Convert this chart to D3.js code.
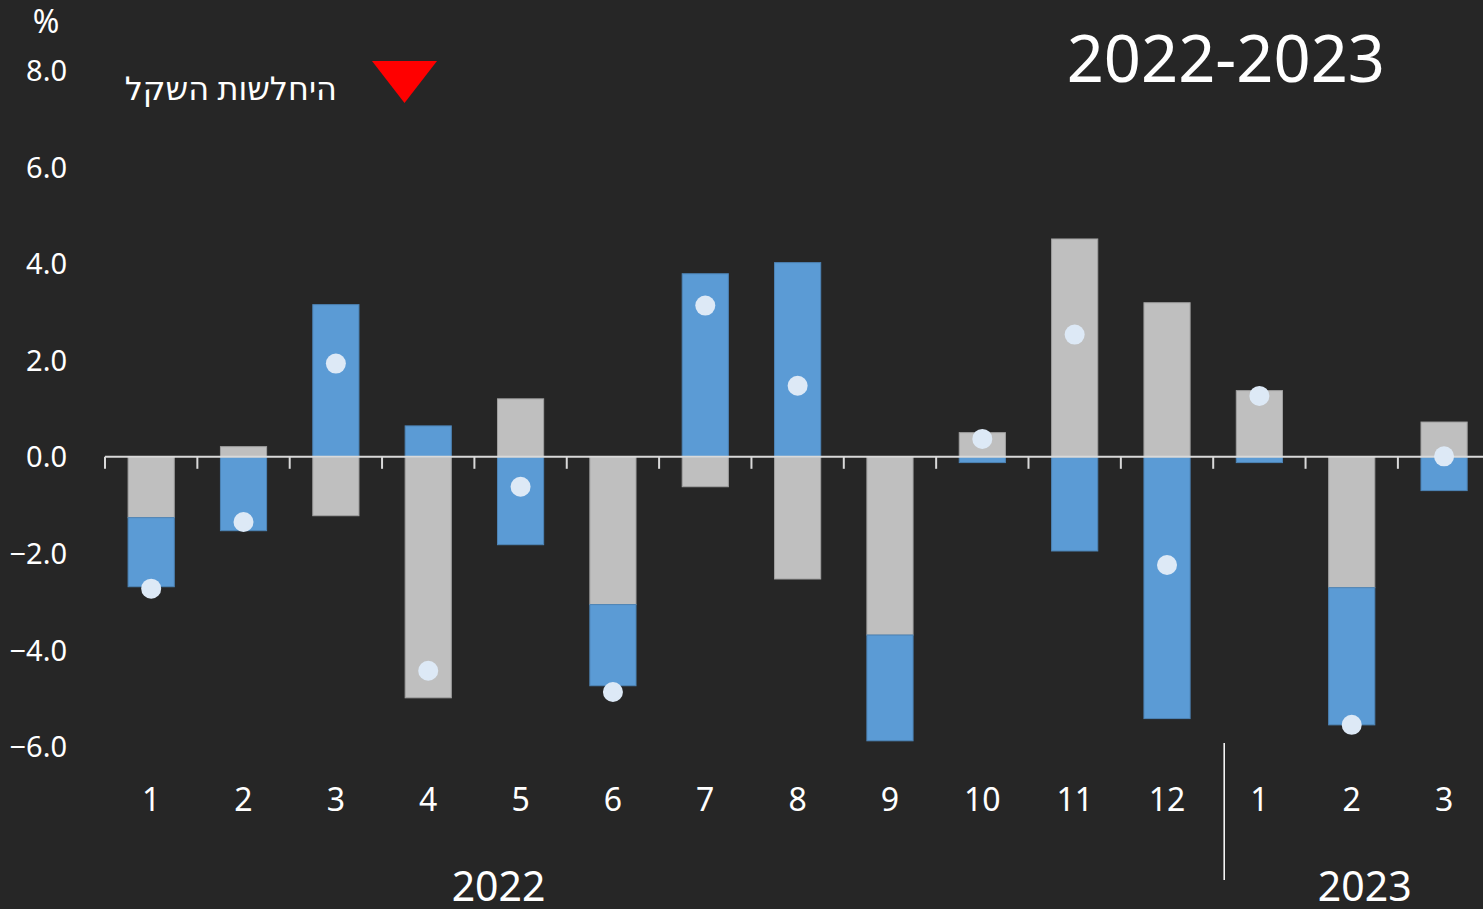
<!DOCTYPE html>
<html><head><meta charset="utf-8">
<script src="https://cdn.jsdelivr.net/npm/d3@7"></script>
<style>
html,body{margin:0;padding:0;background:#262626;}
svg{display:block;}
text{font-family:"Noto Sans","DejaVu Sans",sans-serif;fill:#ffffff;}
</style></head>
<body><svg id="c" width="1483" height="909"></svg>
<script>
const monthLabels = ["1","2","3","4","5","6","7","8","9","10","11","12","1","2","3"];
const grayVals = [-1.26, 0.21, -1.22, -4.99, 1.20, -3.06, -0.62, -2.53, -3.69, 0.50, 4.51, 3.19, 1.37, -2.71, 0.72];
const blueVals = [-1.43, -1.53, 3.15, 0.64, -1.82, -1.68, 3.79, 4.02, -2.19, -0.12, -1.95, -5.42, -0.12, -2.84, -0.70];
const dotVals  = [-2.73, -1.35, 1.93, -4.43, -0.62, -4.87, 3.13, 1.47, null, 0.37, 2.53, -2.24, 1.26, -5.55, 0.01];
const yTicks = [-6, -4, -2, 0, 2, 4, 6, 8];
const years = [{label:"2022", from:0, to:11}, {label:"2023", from:12, to:14}];
const titleText = "2022-2023";
const legendText = "היחלשות השקל";
const unitText = "%";

const svg = d3.select("#c");
const idx = d3.range(monthLabels.length);
const x = d3.scaleBand().domain(idx).range([105, 105 + 15*92.35]).paddingInner(0.5).paddingOuter(0.25);
const y = d3.scaleLinear().domain([-6, 8]).range([746.6, 70.4]);

const rows = idx.map(i => ({i, gray: grayVals[i], blue: blueVals[i]}));
const stack = d3.stack().keys(["gray","blue"]).offset(d3.stackOffsetDiverging).order(d3.stackOrderNone);
const series = stack(rows);
const colors = {gray:"#bfbfbf", blue:"#5b9bd5"};
const strokes = {gray:"#a0a0a0", blue:"#4d84b6"};

svg.append("g").selectAll("g").data(series).join("g")
  .attr("fill", s => colors[s.key]).attr("stroke", s => strokes[s.key]).attr("stroke-width", 1)
  .selectAll("rect").data(s => s).join("rect")
  .attr("x", d => x(d.data.i))
  .attr("width", x.bandwidth())
  .attr("y", d => y(Math.max(d[0], d[1])))
  .attr("height", d => Math.abs(y(d[0]) - y(d[1])));

// zero axis with ticks at category boundaries
const axisG = svg.append("g");
const x0 = x.range()[0], x1 = x.range()[1];
axisG.append("line").attr("x1", x0).attr("x2", x1).attr("y1", y(0)).attr("y2", y(0))
  .attr("stroke", "#d9d9d9").attr("stroke-width", 2);
axisG.selectAll("line.t").data(d3.range(16)).join("line").attr("class","t")
  .attr("x1", k => x0 + k*x.step()).attr("x2", k => x0 + k*x.step())
  .attr("y1", y(0)).attr("y2", y(0) + 12)
  .attr("stroke", "#d9d9d9").attr("stroke-width", 2);

// dots
svg.append("g").selectAll("circle").data(idx.filter(i => dotVals[i] !== null)).join("circle")
  .attr("cx", i => x(i) + x.bandwidth()/2)
  .attr("cy", i => y(dotVals[i]))
  .attr("r", 10)
  .attr("fill", "#dde9f6");

// y axis labels
const yAxis = d3.axisLeft(y).tickValues(yTicks).tickFormat(d3.format(".1f")).tickSize(0).tickPadding(0);
const yg = svg.append("g").attr("transform", "translate(67,0)").call(yAxis);
yg.select(".domain").remove();
yg.selectAll("text").attr("font-size", 29).attr("fill", "#fff").attr("font-family", '"Noto Sans",sans-serif').attr("dy", "0.35em");

// unit
svg.append("text").attr("x", 46).attr("y", 33).attr("text-anchor", "middle").attr("font-size", 32).text(unitText);

// month labels
const xAxis = d3.axisBottom(x).tickFormat(i => monthLabels[i]).tickSize(0).tickPadding(0);
const xg = svg.append("g").attr("transform", "translate(0,800)").call(xAxis);
xg.select(".domain").remove();
xg.selectAll("text").attr("font-size", 32).attr("fill", "#fff").attr("font-family", '"Noto Sans",sans-serif').attr("dy", "0.35em");

// year labels
const yearX = [x(4) - 22 + x.bandwidth()/2, x(13) + 13 + x.bandwidth()/2];
svg.append("g").selectAll("text").data(years).join("text")
  .attr("x", (d, k) => yearX[k]).attr("y", 901).attr("text-anchor", "middle").attr("font-size", 41)
  .text(d => d.label);

// separator
const sepX = x0 + 12*x.step() + 11;
svg.append("line").attr("x1", sepX).attr("x2", sepX).attr("y1", 743).attr("y2", 880)
  .attr("stroke", "#ffffff").attr("stroke-width", 1.5);

// title
svg.append("text").attr("x", 1385).attr("y", 82).attr("text-anchor", "end").attr("font-size", 65).text(titleText);

// legend
svg.append("path").attr("d", "M372,61 L437,61 L404.5,103 Z").attr("fill", "#ff0000");
svg.append("text").attr("x", 337).attr("y", 100).attr("text-anchor", "end").attr("font-size", 32)
  .style("font-family", '"Noto Sans","DejaVu Sans",sans-serif').text(legendText);
</script></body></html>
